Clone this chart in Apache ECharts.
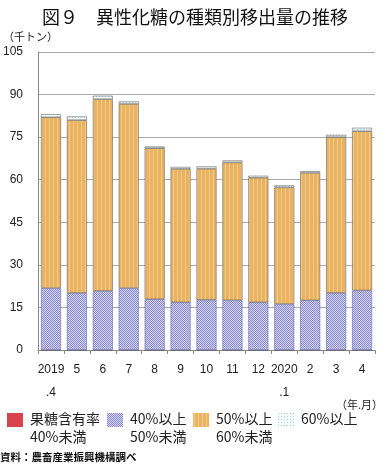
<!DOCTYPE html>
<html><head><meta charset="utf-8">
<script src="https://cdn.jsdelivr.net/npm/echarts@6/dist/echarts.min.js"></script>
<style>html,body{margin:0;padding:0;background:#fff;}#c{width:390px;height:467px;}</style>
</head><body><div id="c"></div>
<script>
const categories = ['2019\n.4','5','6','7','8','9','10','11','12','2020\n.1','2','3','4'];
const below40 = [0,0,0,0,0,0,0,0,0,0,0,0,0];
const from40to50 = [21.8,20.1,20.8,21.8,17.9,16.8,17.7,17.5,16.8,16.2,17.5,20.1,21.0];
const from50to60 = [60.2,60.9,67.6,64.9,53.2,47.0,46.2,48.6,43.9,41.1,44.9,54.9,56.1];
const over60 = [1.1,1.3,1.2,0.9,0.6,0.7,0.8,0.7,0.7,0.7,0.6,0.8,1.2];
const yTicks = [0,15,30,45,60,75,90,105];
const seriesNames = ['果糖含有率\n40%未満','40%以上\n50%未満','50%以上\n60%未満','60%以上'];

function makeCanvas(w,h,draw){
  const c=document.createElement('canvas');c.width=w;c.height=h;
  const g=c.getContext('2d');draw(g);return c;
}
const blueC = makeCanvas(2,2,g=>{g.fillStyle='#d4d4f2';g.fillRect(0,0,2,2);g.fillStyle='#8a8ad0';g.fillRect(0,0,1,1);g.fillRect(1,1,1,1);});
const orangeC = makeCanvas(4,4,g=>{g.fillStyle='#e9b360';g.fillRect(0,0,4,4);g.fillStyle='#f2c98a';g.fillRect(1,0,1,4);});
const lightC = makeCanvas(3,3,g=>{g.fillStyle='#f4fbfc';g.fillRect(0,0,3,3);g.fillStyle='#a9d3dc';g.fillRect(0,0,1,1);});
const pat = c=>({image:c,repeat:'repeat'});

const font = '"Liberation Sans","Noto Sans CJK JP",sans-serif';
const jp = '"Noto Sans CJK JP",sans-serif';
const chart = echarts.init(document.getElementById('c'),null,{renderer:'canvas'});
function mk(name,data,color,border){
  return {name:name,type:'bar',stack:'s',data:data,barWidth:20,
    itemStyle:{color:color,borderColor:border,borderWidth:0.6},
    emphasis:{disabled:true}};
}
const legendIconX=[7,107,193,278];
const legendFills=['#d9434f',pat(blueC),pat(orangeC),pat(lightC)];
const legendGraphics=[];
seriesNames.forEach((n,i)=>{
  legendGraphics.push({type:'rect',left:legendIconX[i],top:413,shape:{width:16,height:14},style:{fill:legendFills[i]},silent:true});
  legendGraphics.push({type:'text',left:legendIconX[i]+23,top:410,style:{text:n,font:'14px '+jp,fill:'#222',lineHeight:18},silent:true});
});
legendGraphics.push({type:'text',left:0,top:452,style:{text:'資料：農畜産業振興機構調べ',font:'bold 10.5px '+jp,fill:'#111'},silent:true});
chart.setOption({
  animation:false,
  textStyle:{fontFamily:font},
  title:[
    {text:'図９　異性化糖の種類別移出量の推移',left:'center',top:3,textStyle:{fontSize:18,fontWeight:'normal',color:'#111',fontFamily:jp}},
    {text:'（千トン）',left:-2,top:26,textStyle:{fontSize:11,fontWeight:'normal',color:'#222',fontFamily:jp}},
    {text:'（年.月）',right:2,top:394,textStyle:{fontSize:11,fontWeight:'normal',color:'#222',fontFamily:jp}}
  ],
  graphic:legendGraphics,
  grid:{left:37,right:15,top:52,bottom:117,containLabel:false},
  xAxis:{type:'category',data:categories,
    axisLine:{lineStyle:{color:'#888',width:1}},
    axisTick:{show:true,length:4,inside:false,lineStyle:{color:'#888'}},
    axisLabel:{fontSize:12,color:'#222',margin:8,lineHeight:23,interval:0,fontFamily:font}},
  yAxis:{type:'value',min:0,max:105,interval:15,
    axisLine:{show:true,lineStyle:{color:'#888'}},
    axisTick:{show:false},
    splitLine:{lineStyle:{color:'#aaa',width:1}},
    axisLabel:{fontSize:12,color:'#222',margin:15,fontFamily:font,
      formatter:v=>yTicks.includes(v)?String(v):''}},
  series:[
    mk(seriesNames[0],below40,'#d9434f','#555'),
    mk(seriesNames[1],from40to50,pat(blueC),'#6a6aa8'),
    mk(seriesNames[2],from50to60,pat(orangeC),'#666'),
    mk(seriesNames[3],over60,pat(lightC),'#666')
  ]
});
</script></body></html>
